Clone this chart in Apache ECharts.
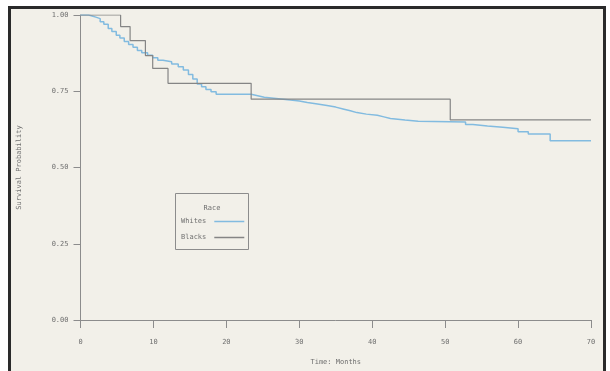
<!DOCTYPE html>
<html>
<head>
<meta charset="utf-8">
<script src="https://cdn.jsdelivr.net/npm/echarts@6/dist/echarts.min.js"></script>
<style>
  html, body { margin: 0; padding: 0; background: #fff; }
  #chart { width: 610px; height: 371px; }
</style>
</head>
<body>
<div id="chart"></div>
<script>
// survival curves
var whiteTime = [0, 1.1, 1.6, 2.1, 2.7, 3.2, 3.8, 4.3, 4.9, 5.4, 6.0, 6.6, 7.2, 7.8, 8.4, 9.2, 9.9,
    10.6, 11.3, 12.5, 13.4, 14.1, 14.8, 15.4, 16.0, 16.6, 17.2, 17.9, 18.6, 23.4, 24.3, 25.2,
    26.5, 27.8, 28.8, 30.0, 31.1, 32.5, 33.8, 35.0, 36.0, 37.0, 37.9, 39.2, 40.7, 41.6, 42.5,
    44.5, 46.3, 52.8, 53.8, 55.8, 57.9, 60.0, 61.4, 64.4, 70];
var whiteSurv = [1.0, 0.997, 0.993, 0.988, 0.978, 0.970, 0.956, 0.946, 0.934, 0.925, 0.913, 0.903,
    0.894, 0.884, 0.876, 0.868, 0.860, 0.852, 0.847, 0.839, 0.830, 0.820, 0.805, 0.790, 0.774,
    0.765, 0.756, 0.748, 0.740, 0.735, 0.730, 0.727, 0.724, 0.721, 0.718, 0.713, 0.708, 0.703,
    0.698, 0.692, 0.686, 0.680, 0.675, 0.671, 0.666, 0.661, 0.656, 0.652, 0.649, 0.641, 0.636,
    0.632, 0.627, 0.617, 0.610, 0.588, 0.588];

var blackTime = [0, 5.5, 6.8, 8.9, 9.9, 12.0, 23.4, 50.7, 70];
var blackSurv = [1.0, 0.962, 0.916, 0.867, 0.825, 0.776, 0.724, 0.656, 0.656];

var seriesNames = ['Whites', 'Blacks'];
var legendTitle = 'Race';
var xTicks = [0, 10, 20, 30, 40, 50, 60, 70];
var yTicks = [0, 0.25, 0.5, 0.75, 1.0];

function pairs(t, s) {
    var out = [];
    for (var i = 0; i < t.length; i++) {
        out.push([t[i], s[i]]);
    }
    return out;
}

var mono = 'DejaVu Sans Mono';
var txt = '#6f6f6f';
var axisCol = '#8c8c8c';

var chart = echarts.init(document.getElementById('chart'), null, { renderer: 'canvas' });

var option = {
    animation: false,
    backgroundColor: '#ffffff',
    textStyle: { fontFamily: mono },
    graphic: [
        {
            type: 'rect',
            z: -10,
            shape: { x: 9.5, y: 7.5, width: 595, height: 380 },
            style: { fill: '#f2f0e9', stroke: '#2a2a2a', lineWidth: 3 }
        },
        {
            type: 'rect',
            z: 5,
            shape: { x: 175.5, y: 193.5, width: 73, height: 56 },
            style: { fill: 'transparent', stroke: axisCol, lineWidth: 1 }
        },
        {
            type: 'text',
            z: 5,
            x: 212,
            y: 208,
            style: {
                text: legendTitle,
                fill: txt,
                font: '7px ' + mono,
                align: 'center',
                verticalAlign: 'middle'
            }
        }
    ],
    legend: {
        data: seriesNames,
        orient: 'vertical',
        align: 'right',
        left: 181,
        top: 218,
        padding: 0,
        itemGap: 9,
        itemWidth: 30,
        itemHeight: 1.5,
        icon: 'rect',
        textStyle: { fontFamily: mono, fontSize: 7, color: txt, padding: [0, 3, 0, 0] }
    },
    grid: {
        left: 80.5,
        right: 19,
        top: 15,
        bottom: 48,
        containLabel: false
    },
    xAxis: {
        type: 'value',
        min: xTicks[0],
        max: xTicks[xTicks.length - 1],
        interval: 10,
        name: 'Time: Months',
        nameLocation: 'middle',
        nameGap: 39,
        nameTextStyle: { fontFamily: mono, fontSize: 7, color: txt },
        axisLine: { lineStyle: { color: axisCol, width: 1 } },
        axisTick: { show: true, length: 8, lineStyle: { color: axisCol } },
        axisLabel: { fontFamily: mono, fontSize: 7, color: txt, margin: 19 },
        splitLine: { show: false }
    },
    yAxis: {
        type: 'value',
        min: yTicks[0],
        max: yTicks[yTicks.length - 1],
        interval: 0.25,
        name: 'Survival Probability',
        nameLocation: 'middle',
        nameGap: 58,
        nameRotate: 90,
        nameTextStyle: { fontFamily: mono, fontSize: 7, color: txt },
        axisLine: { show: true, lineStyle: { color: axisCol, width: 1 } },
        axisTick: { show: true, length: 7, lineStyle: { color: axisCol } },
        axisLabel: {
            fontFamily: mono, fontSize: 7, color: txt, margin: 12,
            formatter: function(v) { return v.toFixed(2); }
        },
        splitLine: { show: false }
    },
    series: [
        {
            name: seriesNames[0],
            type: 'line',
            step: 'end',
            showSymbol: false,
            data: pairs(whiteTime, whiteSurv),
            lineStyle: { color: '#82bbe0', width: 1.5 },
            itemStyle: { color: '#82bbe0' }
        },
        {
            name: seriesNames[1],
            type: 'line',
            step: 'end',
            showSymbol: false,
            data: pairs(blackTime, blackSurv),
            lineStyle: { color: '#858585', width: 1.2 },
            itemStyle: { color: '#858585' }
        }
    ]
};

chart.setOption(option);
</script>
</body>
</html>
